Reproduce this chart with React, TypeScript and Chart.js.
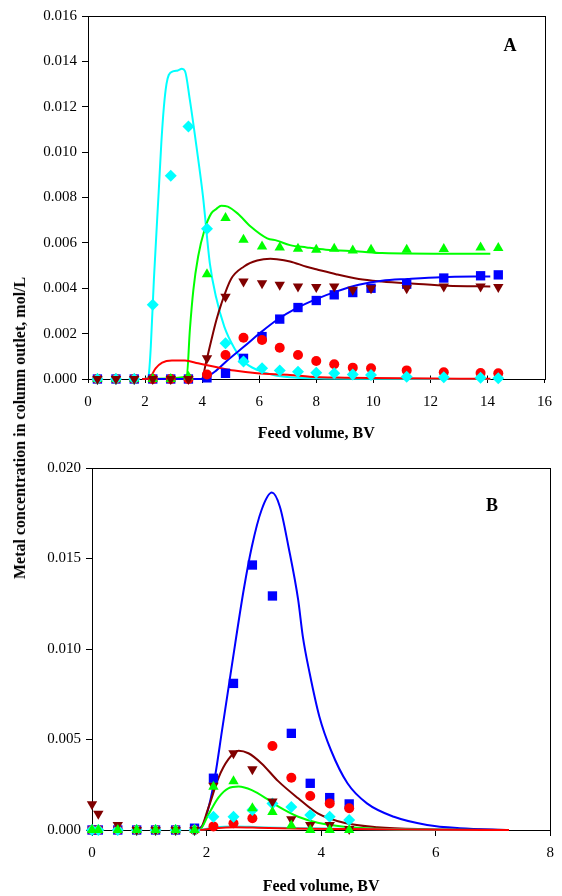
import React, { useEffect, useRef } from 'react';
import { Chart, registerables } from 'chart.js';

Chart.register(...registerables);

const FONT = "'Liberation Serif', 'Times New Roman', Times, serif";

// ---------- Panel A data ----------
const xA = [0.33, 0.98, 1.62, 2.27, 2.9, 3.52, 4.17, 4.82, 5.45, 6.1, 6.72, 7.36, 8.0, 8.63, 9.28, 9.92, 11.17, 12.47, 13.76, 14.38];
const blueA = [0, 0, 0, 0, 0, 0, 0.00005, 0.00025, 0.00091, 0.00187, 0.00264, 0.00315, 0.00346, 0.00371, 0.00381, 0.004, 0.00418, 0.00445, 0.00455, 0.00459];
const redA = [0, 0, 0, 0, 0, 0, 0.0002, 0.00106, 0.00182, 0.00172, 0.00138, 0.00106, 0.00079, 0.00065, 0.0005, 0.00047, 0.00038, 0.0003, 0.00026, 0.00025];
const greenA = [0, 0, 0, 0, 0, 0.0001, 0.00462, 0.0071, 0.00614, 0.00584, 0.0058, 0.00574, 0.0057, 0.00574, 0.00566, 0.0057, 0.0057, 0.00573, 0.0058, 0.00577];
const maroonA = [0, 0, 0, 0, 0, 0, 0.00091, 0.00363, 0.0043, 0.00422, 0.00415, 0.00408, 0.00405, 0.00408, 0.00393, 0.004, 0.004, 0.00408, 0.00408, 0.00405];
const cyanA = [0, 0, 0, 0.00327, 0.00896, 0.01113, 0.00662, 0.00158, 0.00077, 0.00047, 0.00037, 0.00032, 0.00028, 0.00025, 0.0002, 0.00018, 0.0001, 0.00008, 0.00005, 0.00003];

const cyanLineAX = [1.9, 2.1, 2.14, 2.2, 2.31, 2.48, 2.57, 2.66, 2.75, 2.83, 3.0, 3.15, 3.29, 3.4, 3.57, 3.8, 4.03, 4.27, 4.49, 4.78, 5.13, 5.47, 5.93, 6.5, 7.07, 8.0, 10.0, 14.1];
const cyanLineAY = [0, 0.00005, 0.0003, 0.0014, 0.0044, 0.0083, 0.0104, 0.012, 0.013, 0.0134, 0.01357, 0.0136, 0.01367, 0.01357, 0.0123, 0.01026, 0.00805, 0.0051, 0.0036, 0.0023, 0.00136, 0.00076, 0.0004, 0.00018, 0.00008, 0.00003, 0.00001, 0];
const greenLineAX = [1.9, 3.46, 3.57, 3.69, 3.86, 4.09, 4.32, 4.5, 4.67, 4.9, 5.24, 5.7, 6.28, 6.62, 7.08, 7.66, 8.34, 9.49, 10.3, 12.94, 14.1];
const greenLineAY = [0, 0.0001, 0.00216, 0.0039, 0.0054, 0.0066, 0.0073, 0.0075, 0.00764, 0.0076, 0.0073, 0.00672, 0.0062, 0.0061, 0.0059, 0.0058, 0.0057, 0.00562, 0.00555, 0.00552, 0.00552];
const maroonLineAX = [1.9, 3.98, 4.15, 4.32, 4.5, 4.67, 5.01, 5.47, 5.93, 6.39, 6.62, 7.08, 7.66, 8.0, 8.69, 9.49, 10.3, 11.45, 12.6, 14.1];
const maroonLineAY = [0, 0, 0.0008, 0.0017, 0.0026, 0.0033, 0.0044, 0.00496, 0.00522, 0.0053, 0.00528, 0.00518, 0.00495, 0.00484, 0.00462, 0.00441, 0.0043, 0.0042, 0.00411, 0.00408];
const blueLineAX = [1.9, 3.98, 4.44, 4.9, 5.47, 6.05, 6.62, 7.31, 8.0, 8.69, 9.49, 10.3, 11.2, 12.37, 14.1];
const blueLineAY = [0, 0, 0.00032, 0.00084, 0.00143, 0.00205, 0.0026, 0.00312, 0.00352, 0.00385, 0.00415, 0.00433, 0.00441, 0.00449, 0.00452];
const redLineAX = [1.9, 2.14, 2.37, 2.6, 2.94, 3.4, 3.86, 4.44, 5.13, 5.93, 7.08, 7.77, 9.0, 11.0, 14.1];
const redLineAY = [0, 0.00003, 0.00047, 0.00072, 0.00081, 0.00081, 0.00069, 0.00054, 0.00037, 0.00025, 0.00018, 0.0001, 0.00006, 0.00003, 0.00001];

const xTicksA = [0, 2, 4, 6, 8, 10, 12, 14, 16];
const yTicksA = [0, 0.002, 0.004, 0.006, 0.008, 0.01, 0.012, 0.014, 0.016];

// ---------- Panel B data ----------
const xB = [0, 0.11, 0.45, 0.78, 1.11, 1.46, 1.79, 2.12, 2.47, 2.8, 3.15, 3.48, 3.81, 4.15, 4.49];
const blueB = [0, 0, 0, 0, 0, 0, 0.0001, 0.00286, 0.0081, 0.01464, 0.01293, 0.00534, 0.00258, 0.00179, 0.00144];
const redB = [0, 0, 0, 0, 0, 0, 0, 0.0002, 0.00037, 0.00065, 0.00464, 0.00289, 0.00188, 0.00147, 0.0012];
const maroonB = [0.00142, 0.0009, 0.00028, 0, 0, 0, 0, 0.00245, 0.00424, 0.00335, 0.00157, 0.0006, 0.00028, 0.00028, 0.00005];
const greenB = [0, 0, 0, 0, 0, 0, 0, 0.00239, 0.0027, 0.0012, 0.001, 0.00025, 0, 0, 0];
const cyanB = [0, 0, 0, 0, 0, 0, 0, 0.00073, 0.00073, 0.0011, 0.00147, 0.00127, 0.00083, 0.00073, 0.00055];

const blueLineBX = [1.75, 1.92, 2.04, 2.15, 2.27, 2.38, 2.5, 2.65, 2.79, 2.96, 3.14, 3.28, 3.43, 3.6, 3.68, 3.8, 3.97, 4.17, 4.46, 4.8, 5.27, 5.85, 6.42, 7.28];
const blueLineBY = [0, 0.0002, 0.0013, 0.003, 0.0055, 0.0078, 0.0103, 0.0133, 0.01565, 0.01768, 0.01864, 0.01786, 0.01565, 0.0127, 0.0107, 0.00866, 0.00626, 0.00442, 0.00258, 0.00147, 0.00073, 0.00028, 0.0001, 0];
const maroonLineBX = [1.75, 1.87, 2.04, 2.21, 2.38, 2.56, 2.73, 2.96, 3.25, 3.6, 3.94, 4.4, 4.98, 5.85, 7.28];
const maroonLineBY = [0, 0, 0.0013, 0.0029, 0.0039, 0.00438, 0.00424, 0.00368, 0.0027, 0.00175, 0.00092, 0.0004, 0.00015, 0.00004, 0];
const greenLineBX = [1.75, 1.87, 2.04, 2.21, 2.38, 2.56, 2.79, 3.08, 3.25, 3.6, 3.94, 4.4, 4.98, 5.85, 7.28];
const greenLineBY = [0, 0, 0.0009, 0.0018, 0.0023, 0.0024, 0.0022, 0.00166, 0.0013, 0.00073, 0.0004, 0.00018, 0.00007, 0.00002, 0];
const redLineBX = [1.75, 1.87, 2.15, 2.5, 2.9, 3.77, 4.5, 6.0, 7.28];
const redLineBY = [0, 0, 0.0001, 0.00015, 0.00013, 0.00007, 0.00005, 0.00001, 0];
const cyanLineBX = [1.75, 1.87, 2.15, 2.5, 2.9, 3.77, 4.5, 6.0, 7.28];
const cyanLineBY = [0, 0, 0.00015, 0.0002, 0.00015, 0.0001, 0.00005, 0.00001, 0];

const xTicksB = [0, 2, 4, 6, 8];
const yTicksB = [0, 0.005, 0.01, 0.015, 0.02];

const C = {
  blue: '#0000ff',
  red: '#ff0000',
  green: '#00ff00',
  maroon: '#800000',
  cyan: '#00ffff',
};

const pts = (xs: number[], ys: number[]) => xs.map((x, i) => ({ x, y: ys[i] }));

function markers(xs: number[], ys: number[], color: string, style: string, radius: number, order: number, rotation = 0) {
  return {
    data: pts(xs, ys),
    showLine: false,
    pointStyle: style,
    pointRadius: radius,
    pointRotation: rotation,
    pointBackgroundColor: color,
    pointBorderColor: color,
    pointBorderWidth: 0,
    borderColor: color,
    backgroundColor: color,
    order,
    clip: false,
  };
}

function curve(xs: number[], ys: number[], color: string, order: number) {
  return {
    data: pts(xs, ys),
    showLine: true,
    pointRadius: 0,
    borderColor: color,
    backgroundColor: color,
    borderWidth: 2,
    cubicInterpolationMode: 'monotone',
    order,
    clip: false,
  };
}

function makeBoxPlugin(innerXTicks: number) {
  return {
    id: 'plotBox',
    beforeDatasetsDraw(chart: any) {
      const { ctx, chartArea } = chart;
      const l = Math.round(chartArea.left) + 0.5;
      const t = Math.round(chartArea.top) + 0.5;
      const r = Math.round(chartArea.right) + 0.5;
      const b = Math.round(chartArea.bottom) + 0.5;
      ctx.save();
      ctx.strokeStyle = '#000';
      ctx.lineWidth = 1;
      ctx.strokeRect(l, t, r - l, b - t);
      if (innerXTicks > 0) {
        const xs = chart.scales.x;
        ctx.beginPath();
        xs.ticks.forEach((tk: any) => {
          const px = Math.round(xs.getPixelForValue(tk.value)) + 0.5;
          ctx.moveTo(px, b);
          ctx.lineTo(px, b - innerXTicks);
        });
        ctx.stroke();
      }
      ctx.restore();
    },
  };
}

function axisOpts(min: number, max: number, ticksArr: number[], fmt: (v: number) => string, size: number, isX: boolean, tickLen: number, pad: number, title?: string) {
  return {
    type: 'linear',
    min,
    max,
    afterBuildTicks: (scale: any) => {
      scale.ticks = ticksArr.map((v) => ({ value: v }));
    },
    afterFit: (scale: any) => {
      if (isX) scale.height = size;
      else scale.width = size;
    },
    ticks: {
      callback: (v: any) => fmt(Number(v)),
      font: { family: FONT, size: 15 },
      color: '#000',
      padding: pad,
      maxRotation: 0,
      autoSkip: false,
    },
    grid: {
      display: true,
      drawOnChartArea: false,
      drawTicks: true,
      tickLength: tickLen,
      color: '#000',
      lineWidth: 1,
    },
    border: { display: false },
    title: title
      ? {
          display: true,
          text: title,
          font: { family: FONT, size: 16, weight: 'bold' },
          color: '#000',
          padding: { top: 0, bottom: 0 },
        }
      : { display: false },
  };
}

function ChartCanvas(props: { height: number; top: number; build: () => any }) {
  const ref = useRef<HTMLCanvasElement | null>(null);
  useEffect(() => {
    if (!ref.current) return;
    const chart = new Chart(ref.current, props.build());
    return () => chart.destroy();
  }, []);
  return (
    <canvas
      ref={ref}
      width={562}
      height={props.height}
      style={{ position: 'absolute', left: 0, top: props.top, width: 562, height: props.height, display: 'block' }}
    />
  );
}

function buildA() {
  return {
    type: 'scatter',
    data: {
      datasets: [
        markers(xA, maroonA, C.maroon, 'triangle', 6, 1, 180),
        markers(xA, cyanA, C.cyan, 'rectRot', 6, 2),
        markers(xA, greenA, C.green, 'triangle', 6, 3),
        markers(xA, redA, C.red, 'circle', 5, 4),
        markers(xA, blueA, C.blue, 'rect', 6.6, 5),
        curve(redLineAX, redLineAY, C.red, 10),
        curve(blueLineAX, blueLineAY, C.blue, 11),
        curve(maroonLineAX, maroonLineAY, C.maroon, 12),
        curve(greenLineAX, greenLineAY, C.green, 13),
        curve(cyanLineAX, cyanLineAY, C.cyan, 14),
      ],
    },
    options: {
      animation: false,
      responsive: false,
      devicePixelRatio: 1,
      layout: { padding: { top: 16, right: 10, left: 0, bottom: 0 } },
      plugins: { legend: { display: false }, tooltip: { enabled: false } },
      scales: {
        x: axisOpts(0, 16, xTicksA, (v) => String(v), 64, true, 4, 10, 'Feed volume, BV'),
        y: axisOpts(0, 0.016, yTicksA, (v) => v.toFixed(3), 88, false, 6, 5),
      },
    },
    plugins: [makeBoxPlugin(4)],
  };
}

function buildB() {
  return {
    type: 'scatter',
    data: {
      datasets: [
        markers(xB, greenB, C.green, 'triangle', 6, 1),
        markers(xB, maroonB, C.maroon, 'triangle', 6, 2, 180),
        markers(xB, cyanB, C.cyan, 'rectRot', 6, 3),
        markers(xB, redB, C.red, 'circle', 5, 4),
        markers(xB, blueB, C.blue, 'rect', 6.6, 5),
        curve(redLineBX, redLineBY, C.red, 10),
        curve(cyanLineBX, cyanLineBY, C.cyan, 11),
        curve(greenLineBX, greenLineBY, C.green, 12),
        curve(maroonLineBX, maroonLineBY, C.maroon, 13),
        curve(blueLineBX, blueLineBY, C.blue, 14),
      ],
    },
    options: {
      animation: false,
      responsive: false,
      devicePixelRatio: 1,
      layout: { padding: { top: 25, right: 7, left: 0, bottom: 0 } },
      plugins: { legend: { display: false }, tooltip: { enabled: false } },
      scales: {
        x: axisOpts(0, 8, xTicksB, (v) => String(v), 66, true, 6, 8, 'Feed volume, BV'),
        y: axisOpts(0, 0.02, yTicksB, (v) => v.toFixed(3), 92, false, 6, 5),
      },
    },
    plugins: [makeBoxPlugin(0)],
  };
}

export default function App() {
  return (
    <div style={{ position: 'absolute', left: 0, top: 0, width: 562, height: 896, background: '#fff', overflow: 'hidden' }}>
      <ChartCanvas height={443} top={0} build={buildA} />
      <ChartCanvas height={453} top={443} build={buildB} />
      <div
        style={{
          position: 'absolute',
          left: 20,
          top: 428,
          transform: 'translate(-50%, -50%) rotate(-90deg)',
          whiteSpace: 'nowrap',
          fontFamily: FONT,
          fontWeight: 'bold',
          fontSize: 16,
          color: '#000',
        }}
      >
        Metal concentration in column outlet, mol/L
      </div>
      <div
        style={{
          position: 'absolute',
          left: 510,
          top: 45,
          transform: 'translate(-50%, -50%)',
          fontFamily: FONT,
          fontWeight: 'bold',
          fontSize: 18,
          color: '#000',
          lineHeight: 1,
        }}
      >
        A
      </div>
      <div
        style={{
          position: 'absolute',
          left: 492,
          top: 505,
          transform: 'translate(-50%, -50%)',
          fontFamily: FONT,
          fontWeight: 'bold',
          fontSize: 18,
          color: '#000',
          lineHeight: 1,
        }}
      >
        B
      </div>
    </div>
  );
}
